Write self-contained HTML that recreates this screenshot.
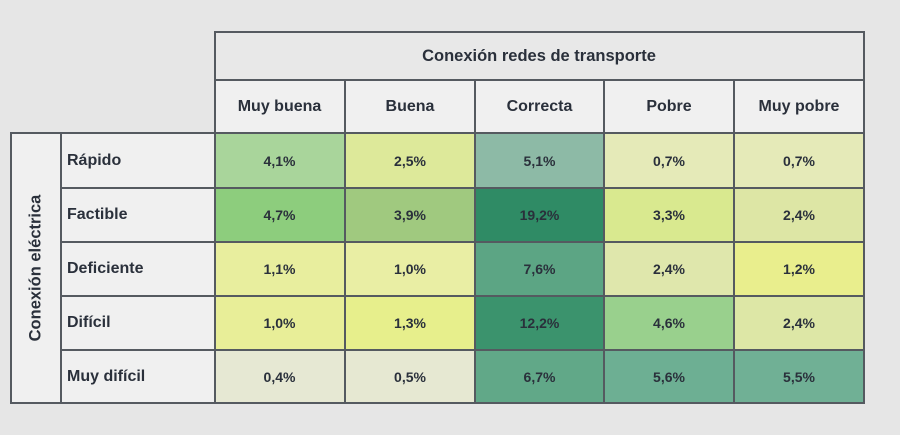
<!DOCTYPE html>
<html><head><meta charset="utf-8"><style>
html,body{margin:0;padding:0;}
body{width:900px;height:435px;background:#e6e6e6;position:relative;overflow:hidden;font-family:"Liberation Sans",sans-serif;font-weight:bold;color:#2a303b;}
.c{position:absolute;display:flex;align-items:center;justify-content:center;font-size:14px;}
.h{font-size:16px;}
.l{justify-content:flex-start;padding-left:6px;box-sizing:border-box;font-size:16px;}
.v{position:absolute;height:2px;background:#555a60;}
.w{position:absolute;width:2px;background:#555a60;}
</style></head><body>
<!-- header top -->
<div class="c h" style="left:214px;top:32px;width:650px;height:48px;background:#e8e8e8;font-size:16.5px;">Conexión redes de transporte</div>
<!-- header row 2 -->
<div class="c h" style="left:214px;top:80px;width:131px;height:53px;background:#f0f0f0;">Muy buena</div>
<div class="c h" style="left:345px;top:80px;width:130px;height:53px;background:#f0f0f0;">Buena</div>
<div class="c h" style="left:475px;top:80px;width:129px;height:53px;background:#f0f0f0;">Correcta</div>
<div class="c h" style="left:604px;top:80px;width:130px;height:53px;background:#f0f0f0;">Pobre</div>
<div class="c h" style="left:734px;top:80px;width:130px;height:53px;background:#f0f0f0;">Muy pobre</div>
<!-- vertical label -->
<div style="position:absolute;left:11px;top:133px;width:50px;height:270px;background:#f0f0f0;"></div>
<div style="position:absolute;left:36px;top:268px;transform:translate(-50%,-50%) rotate(-90deg);font-size:16.5px;white-space:nowrap;">Conexión eléctrica</div>
<!-- row labels -->
<div class="c l" style="left:61px;top:133px;width:153px;height:55px;background:#f0f0f0;">Rápido</div>
<div class="c l" style="left:61px;top:188px;width:153px;height:54px;background:#f0f0f0;">Factible</div>
<div class="c l" style="left:61px;top:242px;width:153px;height:54px;background:#f0f0f0;">Deficiente</div>
<div class="c l" style="left:61px;top:296px;width:153px;height:54px;background:#f0f0f0;">Difícil</div>
<div class="c l" style="left:61px;top:350px;width:153px;height:53px;background:#f0f0f0;">Muy difícil</div>
<!-- row 1 -->
<div class="c" style="left:214px;top:133px;width:131px;height:55px;background:#a9d59b;">4,1%</div>
<div class="c" style="left:345px;top:133px;width:130px;height:55px;background:#dde99a;">2,5%</div>
<div class="c" style="left:475px;top:133px;width:129px;height:55px;background:#8dbaa6;">5,1%</div>
<div class="c" style="left:604px;top:133px;width:130px;height:55px;background:#e5eab8;">0,7%</div>
<div class="c" style="left:734px;top:133px;width:130px;height:55px;background:#e5eab8;">0,7%</div>
<!-- row 2 -->
<div class="c" style="left:214px;top:188px;width:131px;height:54px;background:#8dcd7d;">4,7%</div>
<div class="c" style="left:345px;top:188px;width:130px;height:54px;background:#a0c97f;">3,9%</div>
<div class="c" style="left:475px;top:188px;width:129px;height:54px;background:#2f8b65;">19,2%</div>
<div class="c" style="left:604px;top:188px;width:130px;height:54px;background:#d9e98f;">3,3%</div>
<div class="c" style="left:734px;top:188px;width:130px;height:54px;background:#dde6a5;">2,4%</div>
<!-- row 3 -->
<div class="c" style="left:214px;top:242px;width:131px;height:54px;background:#e8ee9e;">1,1%</div>
<div class="c" style="left:345px;top:242px;width:130px;height:54px;background:#e9eea4;">1,0%</div>
<div class="c" style="left:475px;top:242px;width:129px;height:54px;background:#5ca584;">7,6%</div>
<div class="c" style="left:604px;top:242px;width:130px;height:54px;background:#dfe7ac;">2,4%</div>
<div class="c" style="left:734px;top:242px;width:130px;height:54px;background:#e9ee8d;">1,2%</div>
<!-- row 4 -->
<div class="c" style="left:214px;top:296px;width:131px;height:54px;background:#e8ee98;">1,0%</div>
<div class="c" style="left:345px;top:296px;width:130px;height:54px;background:#e7ef8c;">1,3%</div>
<div class="c" style="left:475px;top:296px;width:129px;height:54px;background:#3b936d;">12,2%</div>
<div class="c" style="left:604px;top:296px;width:130px;height:54px;background:#99d08d;">4,6%</div>
<div class="c" style="left:734px;top:296px;width:130px;height:54px;background:#dde7a6;">2,4%</div>
<!-- row 5 -->
<div class="c" style="left:214px;top:350px;width:131px;height:53px;background:#e6e8d3;">0,4%</div>
<div class="c" style="left:345px;top:350px;width:130px;height:53px;background:#e6e8d2;">0,5%</div>
<div class="c" style="left:475px;top:350px;width:129px;height:53px;background:#61a888;">6,7%</div>
<div class="c" style="left:604px;top:350px;width:130px;height:53px;background:#6daf93;">5,6%</div>
<div class="c" style="left:734px;top:350px;width:130px;height:53px;background:#70b095;">5,5%</div>
<!-- horizontal lines -->
<div class="v" style="left:214px;top:31px;width:651px;"></div>
<div class="v" style="left:214px;top:79px;width:651px;"></div>
<div class="v" style="left:10px;top:132px;width:855px;"></div>
<div class="v" style="left:60px;top:187px;width:805px;"></div>
<div class="v" style="left:60px;top:241px;width:805px;"></div>
<div class="v" style="left:60px;top:295px;width:805px;"></div>
<div class="v" style="left:60px;top:349px;width:805px;"></div>
<div class="v" style="left:10px;top:402px;width:855px;"></div>
<!-- vertical lines -->
<div class="w" style="left:10px;top:132px;height:272px;"></div>
<div class="w" style="left:60px;top:132px;height:272px;"></div>
<div class="w" style="left:214px;top:31px;height:373px;"></div>
<div class="w" style="left:344px;top:79px;height:325px;"></div>
<div class="w" style="left:474px;top:79px;height:325px;"></div>
<div class="w" style="left:603px;top:79px;height:325px;"></div>
<div class="w" style="left:733px;top:79px;height:325px;"></div>
<div class="w" style="left:863px;top:31px;height:373px;"></div>
</body></html>
